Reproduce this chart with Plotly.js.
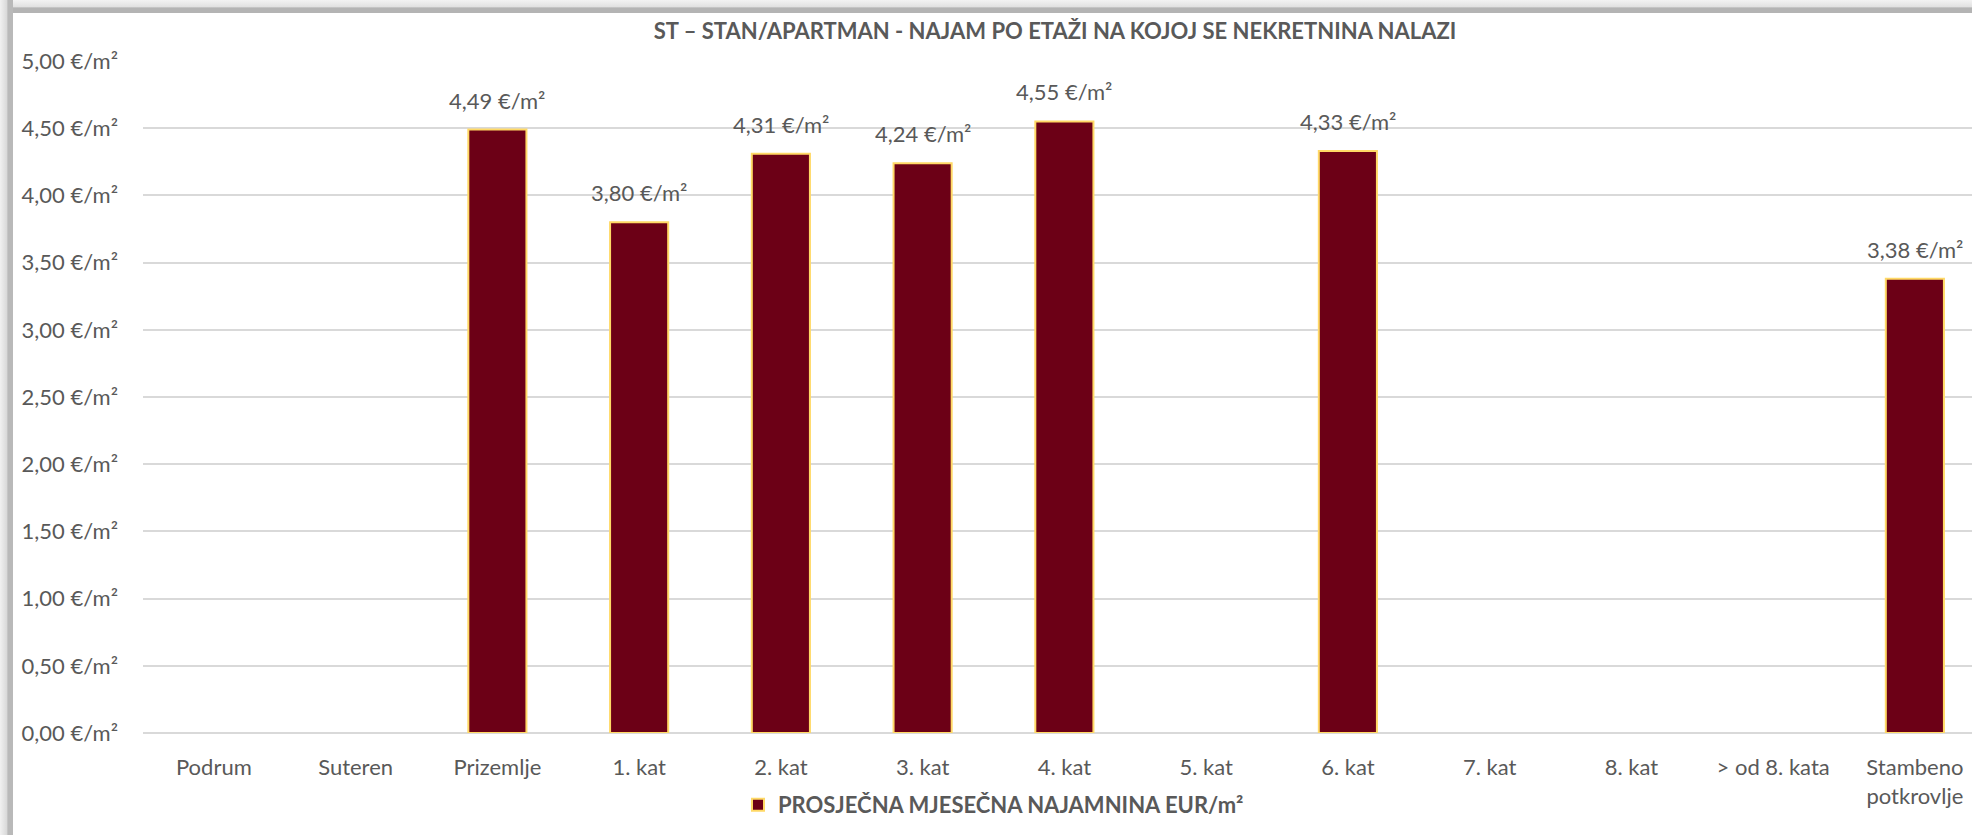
<!DOCTYPE html>
<html>
<head>
<meta charset="utf-8">
<script src="https://cdn.plot.ly/plotly-3.0.1.min.js"></script>
<style>
  html { scrollbar-width: none; }
  ::-webkit-scrollbar { width: 0; height: 0; display: none; }
  html, body { margin:0; padding:0; overflow:hidden; }
  body { width:100vw; height:100vh; position:relative; background:#ffffff; }
  #ftop { position:absolute; left:0; top:0; width:100%; height:13px;
          background: linear-gradient(to bottom, #f3f3f3 0%, #e2e2e2 50%, #b4b4b4 62%, #b4b4b4 100%); }
  #fleft { position:absolute; left:0; top:0; width:13px; height:100%;
          background: linear-gradient(to right, #f1f1f1 0%, #dadada 50%, #b9b9b9 62%, #b9b9b9 100%); }
  #chart { position:absolute; left:13px; top:13px; width:1959px; height:822px; background:#ffffff; }
</style>
</head>
<body>
<div id="ftop"></div>
<div id="fleft"></div>
<div id="chart"></div>
<script>
const categories = ["Podrum", "Suteren", "Prizemlje", "1. kat", "2. kat", "3. kat", "4. kat", "5. kat", "6. kat", "7. kat", "8. kat", "> od 8. kata", "Stambeno<br>potkrovlje"];
const rentValues = [null, null, 4.49, 3.80, 4.31, 4.24, 4.55, null, 4.33, null, null, null, 3.38];
const seriesName = "PROSJEČNA MJESEČNA NAJAMNINA EUR/m²";
const chartTitle = "ST – STAN/APARTMAN - NAJAM PO ETAŽI NA KOJOJ SE NEKRETNINA NALAZI";
const yTickVals = [0, 0.5, 1, 1.5, 2, 2.5, 3, 3.5, 4, 4.5, 5];

function fmt(v) { return v.toFixed(2).replace('.', ',') + ' €/m²'; }

const W = 1959, H = 822;
const textColor = '#595959';
const fontFam = 'Lato, "Open Sans", sans-serif';

const annotations = [];
categories.forEach((c, i) => {
  const v = rentValues[i];
  if (v !== null) {
    annotations.push({
      x: c, y: v, xref: 'x', yref: 'y', text: fmt(v), showarrow: false,
      yanchor: 'bottom', yshift: 14,
      font: { family: fontFam, size: 22, color: textColor }
    });
  }
});

const trace = {
  type: 'bar',
  x: categories,
  y: rentValues,
  name: '<b>' + seriesName + '</b>',
  marker: { color: '#6C0016', line: { color: '#FFD966', width: 2 } },
  hoverinfo: 'x+y'
};

// the plot area runs past the right edge of the picture, as in the reference
const plotLeft = 130, catStep = 141.75;
const xMax = -0.5 + (W - plotLeft) / catStep;

const layout = {
  width: W, height: H,
  margin: { l: plotLeft, r: 0, t: 48, b: 102 },
  paper_bgcolor: '#ffffff', plot_bgcolor: '#ffffff',
  font: { family: fontFam, size: 22, color: textColor },
  title: {
    text: '<b>' + chartTitle + '</b>',
    font: { family: fontFam, size: 22, color: textColor },
    x: 1042 / W, xref: 'container', xanchor: 'center',
    y: 1 - 18 / H, yref: 'container', yanchor: 'middle'
  },
  bargap: 0.59,
  xaxis: {
    type: 'category',
    range: [-0.5, xMax],
    tickfont: { family: fontFam, size: 22, color: textColor },
    showgrid: false, showline: false, ticks: '', zeroline: false,
    ticklabelstandoff: 19,
    fixedrange: true
  },
  yaxis: {
    range: [0, 5],
    tickvals: yTickVals,
    ticktext: yTickVals.map(fmt),
    tickfont: { family: fontFam, size: 22, color: textColor },
    showgrid: true, gridcolor: '#D9D9D9', gridwidth: 2,
    zeroline: true, zerolinecolor: '#D9D9D9', zerolinewidth: 2,
    showline: false, ticks: '',
    ticklabelstandoff: 24,
    fixedrange: true
  },
  showlegend: true,
  legend: {
    orientation: 'h',
    xref: 'container', yref: 'container',
    x: 725 / W, xanchor: 'left',
    y: 1 - 792 / H, yanchor: 'middle',
    font: { family: fontFam, size: 22, color: textColor },
    bgcolor: 'rgba(0,0,0,0)'
  },
  annotations: annotations
};

Plotly.newPlot('chart', [trace], layout, { displayModeBar: false, staticPlot: true });
</script>
</body>
</html>
